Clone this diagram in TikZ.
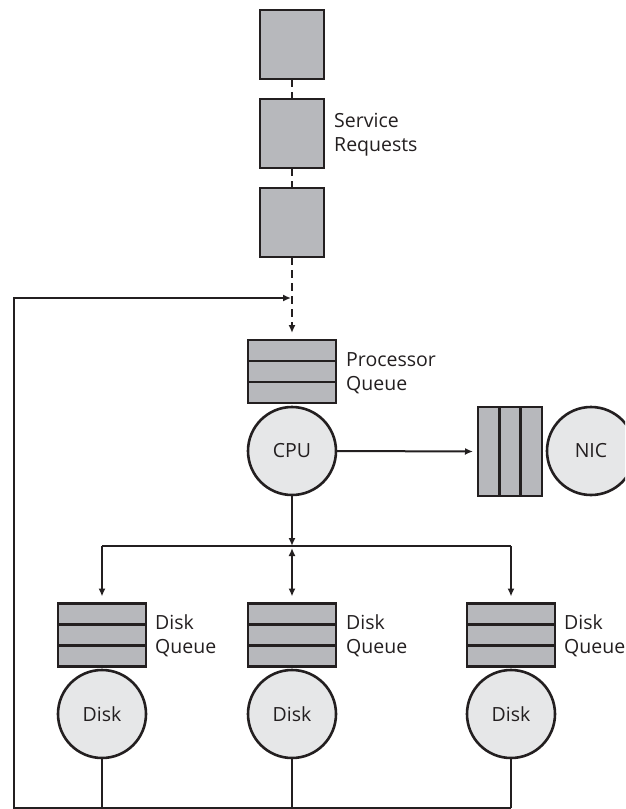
\documentclass[tikz,border=0pt]{standalone}
\usepackage{fontspec}
\setmainfont{Open Sans}
\usepackage{tikz}
\usetikzlibrary{arrows.meta,calc}
\definecolor{qInk}{RGB}{35,31,32}
\definecolor{qBox}{RGB}{183,184,188}
\definecolor{qDisc}{RGB}{230,231,232}

\begin{document}
\begin{tikzpicture}[
  x=1pt,y=-1pt,
  every node/.style={font=\fontsize{19.5}{24}\selectfont,text=qInk},
  reqbox/.style={rectangle,draw=qInk,fill=qBox,line width=2.8pt,minimum width=64pt,minimum height=69pt,inner sep=0pt,outer sep=0pt},
  hqueue/.style={rectangle,draw=qInk,fill=qBox,line width=2.8pt,minimum width=88pt,minimum height=63pt,inner sep=0pt,outer sep=0pt},
  vqueue/.style={rectangle,draw=qInk,fill=qBox,line width=2.8pt,minimum width=64pt,minimum height=89pt,inner sep=0pt,outer sep=0pt},
  server/.style={circle,draw=qInk,fill=qDisc,line width=2.6pt,minimum size=88pt,inner sep=0pt,outer sep=0pt},
  lbl/.style={anchor=west,align=left,inner sep=0pt},
  link/.style={draw=qInk,line width=2pt},
  dashlink/.style={link,dash pattern=on 8pt off 5pt},
  tip/.style={-{Latex[length=8pt,width=7pt]}}
]
  \useasboundingbox (0,0) rectangle (625,809);
  \clip (0,0) rectangle (625,809);

  % incoming requests
  \node[reqbox] (req1) at (292,44.5) {};
  \node[reqbox] (req2) at (292,133.5) {};
  \node[reqbox] (req3) at (292,222.5) {};
  \node[lbl] (reqtxt) at (334,134.5) {Service\\Requests};

  \coordinate (fb) at (292,298);

  % processor
  \node[hqueue] (pq) at (292,371.5) {};
  \node[lbl] (pqtxt) at (346,373) {Processor\\Queue};
  \node[server] (cpu) at (292,451) {CPU};

  % network
  \node[vqueue] (nq) at (510,451.5) {};
  \node[server] (nic) at (591,451) {NIC};

  % disks
  \coordinate (bus) at (292,546);
  \coordinate (bot) at (292,808);
  \node[hqueue] (dq1) at (102,635) {};
  \node[hqueue] (dq2) at (292,635) {};
  \node[hqueue] (dq3) at (511,635) {};
  \node[lbl] (dq1txt) at (155,636) {Disk\\Queue};
  \node[lbl] (dq2txt) at (346,636) {Disk\\Queue};
  \node[lbl] (dq3txt) at (564,636) {Disk\\Queue};
  \node[server] (disk1) at (102,714) {Disk};
  \node[server] (disk2) at (292,714) {Disk};
  \node[server] (disk3) at (511,714) {Disk};

  \foreach \q in {pq,dq1,dq2,dq3}{
    \draw[qInk,line width=2.8pt] ($(\q.north west)!1/3!(\q.south west)$) -- ($(\q.north east)!1/3!(\q.south east)$);
    \draw[qInk,line width=2.8pt] ($(\q.north west)!2/3!(\q.south west)$) -- ($(\q.north east)!2/3!(\q.south east)$);
  }
  \draw[qInk,line width=2.8pt] ($(nq.north west)!1/3!(nq.north east)$) -- ($(nq.south west)!1/3!(nq.south east)$);
  \draw[qInk,line width=2.8pt] ($(nq.north west)!2/3!(nq.north east)$) -- ($(nq.south west)!2/3!(nq.south east)$);

  % connectors
  \draw[dashlink] (req1.south) -- (req2.north);
  \draw[dashlink] (req2.south) -- (req3.north);
  \draw[dashlink,tip,shorten >=7pt] (req3.south) -- (pq.north);
  \draw[link,tip,shorten >=5pt] (cpu.east) -- (nq.west);
  \draw[link,tip] (cpu.south) -- (bus);
  \draw[link] (dq1.north |- bus) -- (dq3.north |- bus);
  \draw[link,tip,shorten >=7pt] (dq1.north |- bus) -- (dq1.north);
  \draw[link,tip,shorten >=7pt] (dq3.north |- bus) -- (dq3.north);
  \draw[link,{Latex[length=8pt,width=7pt]}-{Latex[length=8pt,width=7pt]},shorten <=2pt,shorten >=7pt] (bus) -- (dq2.north);

  % feedback loop
  \draw[link] (disk1.south) -- (disk1.south |- bot);
  \draw[link] (disk2.south) -- (disk2.south |- bot);
  \draw[link] (disk3.south) -- (disk3.south |- bot);
  \draw[link,tip,shorten >=1pt] (disk3.south |- bot) -- (14,808) -- (14,298) -- (fb);
\end{tikzpicture}
\end{document}
